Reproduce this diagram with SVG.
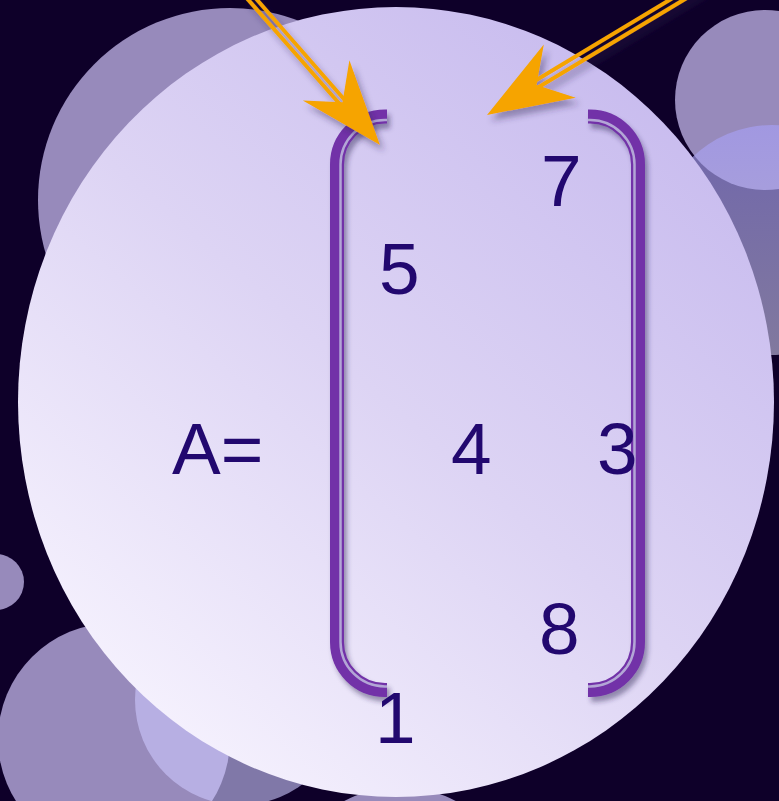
<svg xmlns="http://www.w3.org/2000/svg" width="779" height="801" viewBox="0 0 779 801">
  <defs>
    <linearGradient id="bigGrad" gradientUnits="userSpaceOnUse" x1="90" y1="760" x2="700" y2="60">
      <stop offset="0" stop-color="#f9f6ff"/>
      <stop offset="0.5" stop-color="#ddd4f4"/>
      <stop offset="1" stop-color="#c6b9ee"/>
    </linearGradient>
    <linearGradient id="glassTR" x1="0" y1="0" x2="0" y2="1">
      <stop offset="0" stop-color="#a7a0f6"/>
      <stop offset="1" stop-color="#c2bde0"/>
    </linearGradient>
    <filter id="shadow" x="-20%" y="-20%" width="150%" height="150%">
      <feDropShadow dx="3" dy="5" stdDeviation="2.5" flood-color="#2e2255" flood-opacity="0.45"/>
    </filter>
    <filter id="ashadow" x="-20%" y="-20%" width="150%" height="150%">
      <feDropShadow dx="4" dy="6" stdDeviation="3" flood-color="#2e2255" flood-opacity="0.4"/>
    </filter>
  </defs>
  <style>
    .bub { fill: #978abb; }
    .entry { font-family: "Liberation Sans", Arial, sans-serif; font-size: 73px; fill: #22086f; }
    .br-out { fill: none; stroke: #7232a8; stroke-width: 14; }
    .br-in { fill: none; stroke: #b3a6d6; stroke-width: 2.5; }
    .arrow { fill: #f6a400; }
    .shaft { stroke: #f6a400; stroke-width: 4; fill: none; }
  </style>

  <rect width="779" height="801" fill="#0e0029"/>

  <g id="background">
    <circle class="bub" cx="230" cy="200" r="192"/>
    <circle class="bub" cx="765" cy="100" r="90"/>
    <circle cx="772" cy="240" r="115" fill="url(#glassTR)" opacity="0.64"/>
    <circle class="bub" cx="-4" cy="582" r="28"/>
    <circle class="bub" cx="114" cy="739" r="116"/>
    <circle cx="240" cy="700" r="105" fill="#cdc8fd" opacity="0.6"/>
    <circle class="bub" cx="400" cy="905" r="118"/>
    <ellipse cx="396" cy="402" rx="378" ry="395" fill="url(#bigGrad)"/>
  </g>

  <g id="matrix" filter="url(#shadow)">
    <g id="bracket-left">
      <path class="br-out" d="M 387 116.5 H 385 A 48 48 0 0 0 337 164.5 V 642 A 48 48 0 0 0 385 690 H 387"/>
      <path class="br-in" d="M 387 120 H 385 A 44.5 44.5 0 0 0 340.5 164.5 V 642 A 44.5 44.5 0 0 0 385 686.5 H 387"/>
    </g>
    <g id="bracket-right">
      <path class="br-out" d="M 588 116.5 H 590 A 48 48 0 0 1 638 164.5 V 642 A 48 48 0 0 1 590 690 H 588"/>
      <path class="br-in" d="M 588 120 H 590 A 44.5 44.5 0 0 1 634.5 164.5 V 642 A 44.5 44.5 0 0 1 590 686.5 H 588"/>
    </g>
  </g>

  <g id="label-A"><text class="entry" x="172" y="474">A=</text></g>
  <g id="entry-7"><text class="entry" x="541" y="206">7</text></g>
  <g id="entry-5"><text class="entry" x="379" y="294">5</text></g>
  <g id="entry-4"><text class="entry" x="451" y="474">4</text></g>
  <g id="entry-3"><text class="entry" x="597" y="474">3</text></g>
  <g id="entry-8"><text class="entry" x="539" y="654">8</text></g>
  <g id="entry-1"><text class="entry" x="375" y="743">1</text></g>

  <g id="connectors" filter="url(#ashadow)">
    <g id="arrow-left">
      <line class="shaft" x1="245.9" y1="-2.9" x2="344.5" y2="109.5"/>
      <line class="shaft" x1="250.9" y1="-7.2" x2="349.3" y2="105.3"/>
      <polygon class="arrow" points="380,145 349.4,60.3 342.5,102.2 302.8,100.5"/>
    </g>
    <g id="arrow-right">
      <line class="shaft" x1="703" y1="-11.8" x2="535.5" y2="89"/>
      <line class="shaft" x1="699.4" y1="-18" x2="531.9" y2="82.8"/>
      <polygon class="arrow" points="487,115 543.8,44.6 536.6,85.1 575.8,97.7"/>
    </g>
  </g>
</svg>
